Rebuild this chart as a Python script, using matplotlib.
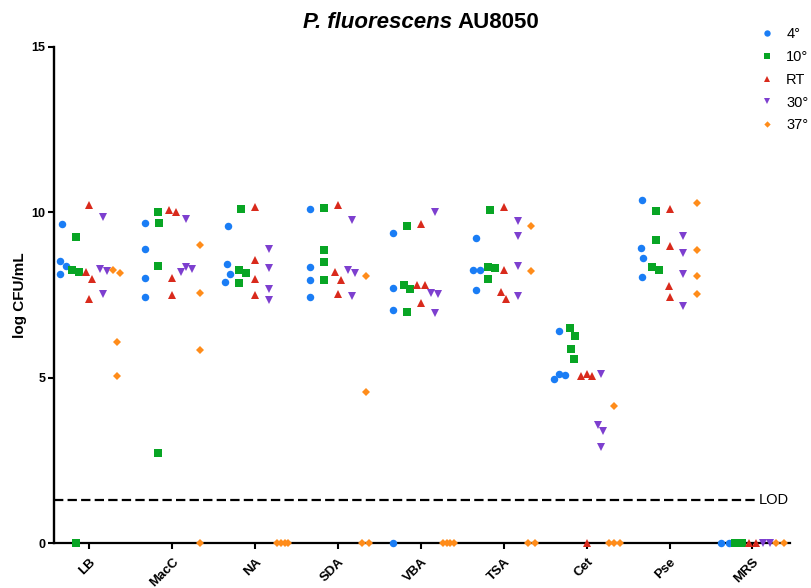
import numpy as np
import matplotlib
matplotlib.use("Agg")
import matplotlib.pyplot as plt
from matplotlib.offsetbox import TextArea, HPacker, AnchoredOffsetbox

plt.rcParams["font.family"] = ["Liberation Sans", "DejaVu Sans"]

# ---------------- data (log CFU/mL per medium, one list per replicate set) ----
media = ["LB", "MacC", "NA", "SDA", "VBA", "TSA", "Cet", "Pse", "MRS"]
temps = ["4°", "10°", "RT", "30°", "37°"]
lod = 1.3

cfu_4 = [
    [9.66, 8.52, 8.37, 8.14],
    [9.67, 8.88, 8.03, 7.44],
    [9.60, 8.44, 8.14, 7.90],
    [10.10, 8.35, 7.96, 7.43],
    [9.38, 7.71, 7.04, 0],
    [9.22, 8.27, 8.27, 7.67],
    [6.41, 5.13, 5.08, 4.97],
    [10.36, 8.92, 8.61, 8.05],
    [0, 0],
]
cfu_10 = [
    [9.27, 8.27, 8.21, 0],
    [10.01, 9.68, 8.37, 2.73],
    [10.09, 8.27, 8.17, 7.87],
    [10.13, 8.87, 8.51, 7.97],
    [9.59, 7.82, 7.68, 6.98],
    [10.06, 8.36, 8.31, 7.98],
    [6.52, 6.28, 5.88, 5.58],
    [10.04, 9.17, 8.35, 8.26],
    [0, 0],
]
cfu_rt = [
    [10.21, 8.19, 8.00, 7.37],
    [10.06, 10.01, 8.03, 7.51],
    [10.15, 8.55, 8.00, 7.51],
    [10.22, 8.19, 7.96, 7.54],
    [9.64, 7.80, 7.80, 7.27],
    [10.15, 8.25, 7.61, 7.38],
    [5.13, 5.05, 5.05, 0],
    [10.10, 8.98, 7.78, 7.45],
    [0, 0],
]
cfu_30 = [
    [9.86, 8.30, 8.22, 7.53],
    [9.80, 8.35, 8.29, 8.20],
    [8.88, 8.33, 7.69, 7.35],
    [9.78, 8.27, 8.16, 7.47],
    [10.00, 7.58, 7.54, 6.95],
    [9.74, 9.28, 8.37, 7.46],
    [5.13, 3.59, 3.39, 2.90],
    [9.29, 8.76, 8.13, 7.17],
    [0, 0],
]
cfu_37 = [
    [8.27, 8.17, 6.08, 5.05],
    [9.01, 7.58, 5.85, 0],
    [0, 0, 0, 0],
    [8.08, 4.56, 0, 0],
    [0, 0, 0, 0],
    [9.59, 8.22, 0, 0],
    [4.16, 0, 0, 0],
    [10.27, 8.87, 8.07, 7.52],
    [0, 0],
]

series = [cfu_4, cfu_10, cfu_rt, cfu_30, cfu_37]
markers = ["o", "s", "^", "v", "D"]
sizes = [5.4, 5.3, 5.9, 5.9, 3.8]
colors = ["#1a7df5", "#08a524", "#d92a1c", "#7d3fcf", "#ff8c1a"]


def swarm_offsets(values, sx, sy, wx=7.3, hy=11.0, span=11.0):
    """Horizontal beeswarm offsets (in data units) so markers do not overlap."""
    v = np.asarray(values, float)
    n = len(v)
    ypx = v * sy
    x = np.zeros(n)
    placed = []

    def need(i, j):
        dy = abs(ypx[i] - ypx[j])
        return wx * np.sqrt(1 - (dy / hy) ** 2) if dy < hy else 0.0

    for i in np.argsort(-v, kind="stable"):
        cands = [0.0]
        for j in placed:
            d = need(i, j)
            if d > 0:
                cands += [x[j] + d, x[j] - d]
        cands.sort(key=lambda c: (round(abs(c), 6), -c))
        for c in cands:
            if all(abs(c - x[j]) >= need(i, j) - 1e-6 for j in placed):
                x[i] = c
                break
        placed.append(i)

    order = np.argsort(v, kind="stable")
    groups = [[order[0]]]
    for a, b in zip(order[:-1], order[1:]):
        if abs(ypx[b] - ypx[a]) < hy:
            groups[-1].append(b)
        else:
            groups.append([b])
    for g in groups:
        if len(g) > 1:
            g = np.array(g)
            x[g] -= x[g].mean()
            r = np.ptp(x[g])
            if r > span:
                x[g] *= span / r
    return x / sx


fig = plt.figure(figsize=(8.12, 5.88), dpi=100)
ax = fig.add_axes([53.7 / 812, (588 - 543.4) / 588, 736.1 / 812, 496.5 / 588])
xmin, xmax = -0.43, 8.45
ax.set_xlim(xmin, xmax)
ax.set_ylim(0, 15)

sx = ax.bbox.width / (xmax - xmin)
sy = ax.bbox.height / 15.0
group_offsets = np.linspace(-2, 2, 5) / 6.0

handles = []
for k, data in enumerate(series):
    xs, ys = [], []
    for m, vals in enumerate(data):
        off = swarm_offsets(vals, sx, sy)
        xs.extend(m + group_offsets[k] + off)
        ys.extend(vals)
    (ln,) = ax.plot(xs, ys, ls="none", marker=markers[k], ms=sizes[k],
                    color=colors[k], mew=0, clip_on=False, zorder=3,
                    label=temps[k])
    handles.append(ln)

# limit of detection
ax.hlines(lod, xmin, 8.03, colors="black", linestyles=(0, (4.2, 1.9)),
          lw=1.6, zorder=2)
ax.text(8.07, lod, "LOD", va="center", ha="left", fontsize=10.5)

# axes styling
for s in ("top", "right"):
    ax.spines[s].set_visible(False)
ax.spines["left"].set_linewidth(1.7)
ax.spines["bottom"].set_linewidth(1.6)
ax.set_yticks([0, 5, 10, 15])
ax.tick_params(axis="y", direction="out", length=4, width=1.5, labelsize=9,
               pad=2)
ax.tick_params(axis="x", direction="out", length=4.5, width=1.5, pad=4.5)
for lbl in ax.get_yticklabels():
    lbl.set_fontweight("bold")
ax.set_xticks(range(len(media)))
ax.set_xticklabels(media, rotation=45, ha="right", rotation_mode="anchor",
                   fontweight="bold", fontsize=9.5)
ax.set_ylabel("log CFU/mL", fontsize=11, fontweight="bold", labelpad=3)

# legend
ax.legend(handles=handles, loc="upper left",
          bbox_to_anchor=(760 / 812, (588 - 27.3) / 588),
          bbox_transform=fig.transFigure, frameon=False, fontsize=10.5,
          handlelength=1.0, handletextpad=0.8, labelspacing=0.6,
          borderpad=0, borderaxespad=0, markerscale=0.85, numpoints=1)

# title: italic species name followed by strain id
t1 = TextArea("P. fluorescens", textprops=dict(fontsize=16, fontweight="bold",
                                               fontstyle="italic"))
t2 = TextArea("AU8050", textprops=dict(fontsize=16, fontweight="bold"))
box = HPacker(children=[t1, t2], align="baseline", pad=0, sep=4.4)
title = AnchoredOffsetbox(loc="center", child=box, pad=0, borderpad=0,
                          frameon=False, bbox_to_anchor=(421 / 812, 1 - 22 / 588),
                          bbox_transform=fig.transFigure)
fig.add_artist(title)

fig.savefig("out.png", dpi=100)
